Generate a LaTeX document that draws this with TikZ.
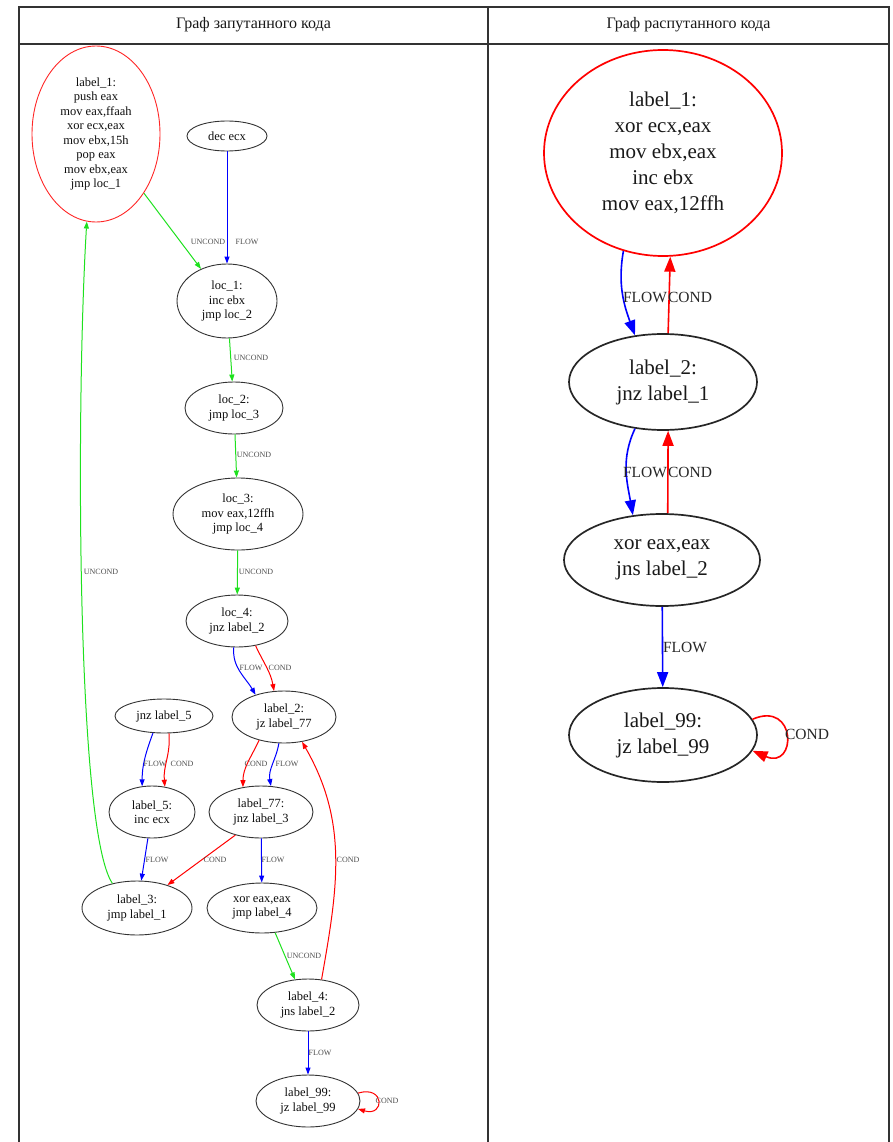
\documentclass[tikz,border=0pt]{standalone}
\usepackage{fontspec}
\setmainfont{Liberation Serif}
\usetikzlibrary{shapes.geometric,arrows.meta}
\definecolor{gvgreen}{RGB}{30,225,30}
\definecolor{gvblue}{RGB}{0,0,255}
\definecolor{gvred}{RGB}{255,0,0}
\begin{document}
\begin{tikzpicture}[x=1pt,y=-1pt,
  lnode/.style={ellipse,draw=black!80,line width=0.9pt,inner sep=0pt,align=center,font=\fontsize{12.5}{14.5}\selectfont,text=black!95},
  rnode/.style={ellipse,draw=black!85,line width=1.7pt,inner sep=0pt,align=center,font=\fontsize{21}{26}\selectfont,text=black!90},
  ledge/.style={line width=1pt,-{Triangle[length=7pt,width=5pt]}},
  redge/.style={line width=1.6pt,-{Triangle[length=15pt,width=11pt]}},
  llab/.style={inner sep=0pt,font=\fontsize{8}{9}\selectfont,text=black!70},
  rlab/.style={inner sep=0pt,font=\fontsize{15.5}{17}\selectfont,text=black!85},
  head/.style={inner sep=0pt,font=\fontsize{16}{18}\selectfont,text=black!90},
  frame/.style={line width=1.8pt,draw=black!80}
]
\useasboundingbox (0,0) rectangle (892,1142);
% table
\draw[frame] (19,1142) -- (19,7) -- (889,7) -- (889,1142);
\draw[frame] (19,44) -- (889,44);
\draw[frame] (488,7) -- (488,1142);
\node[head] (h1) at (253.5,25) {Граф запутанного кода};
\node[head] (h2) at (688.5,25) {Граф распутанного кода};

% ---------- left graph ----------
\node[lnode,draw=gvred!85,minimum width=128pt,minimum height=176pt] (a1) at (96,134) {label\_1:\\push eax\\mov eax,ffaah\\xor ecx,eax\\mov ebx,15h\\pop eax\\mov ebx,eax\\jmp loc\_1};
\node[lnode,minimum width=80pt,minimum height=30pt] (dec) at (227,136) {dec ecx};
\node[lnode,minimum width=100pt,minimum height=74pt] (loc1) at (227,301) {loc\_1:\\inc ebx\\jmp loc\_2};
\node[lnode,minimum width=98pt,minimum height=52pt] (loc2) at (234,408) {loc\_2:\\jmp loc\_3};
\node[lnode,minimum width=130pt,minimum height=72pt] (loc3) at (238,514) {loc\_3:\\mov eax,12ffh\\jmp loc\_4};
\node[lnode,minimum width=102pt,minimum height=52pt] (loc4) at (237,621) {loc\_4:\\jnz label\_2};
\node[lnode,minimum width=104pt,minimum height=52pt] (l2) at (284,717) {label\_2:\\jz label\_77};
\node[lnode,minimum width=98pt,minimum height=34pt] (j5) at (164,716) {jnz label\_5};
\node[lnode,minimum width=86pt,minimum height=52pt] (l5) at (152,812) {label\_5:\\inc ecx};
\node[lnode,minimum width=104pt,minimum height=52pt] (l77) at (261,812) {label\_77:\\jnz label\_3};
\node[lnode,minimum width=110pt,minimum height=54pt] (l3) at (137,908) {label\_3:\\jmp label\_1};
\node[lnode,minimum width=110pt,minimum height=50pt] (x4) at (262,908) {xor eax,eax\\jmp label\_4};
\node[lnode,minimum width=102pt,minimum height=52pt] (l4) at (308,1005) {label\_4:\\jns label\_2};
\node[lnode,minimum width=104pt,minimum height=52pt] (l99) at (308,1101) {label\_99:\\jz label\_99};

\draw[ledge,gvgreen] (a1.-51) -- (loc1.129);
\draw[ledge,gvblue] (dec) -- (loc1);
\draw[ledge,gvgreen] (loc1) -- (loc2);
\draw[ledge,gvgreen] (loc2) -- (loc3);
\draw[ledge,gvgreen] (loc3) -- (loc4);
\draw[ledge,gvblue] (loc4.-97) to[out=-95,in=120] (l2.142);
\draw[ledge,gvred] (loc4.-53) to[out=-65,in=100] (l2.111);
\draw[ledge,gvred] (l2.-137) to[out=-115,in=90] (l77.126);
\draw[ledge,gvblue] (l2.-101) to[out=-100,in=100] (l77.69);
\draw[ledge,gvblue] (j5.-123) to[out=-110,in=90] (l5.111);
\draw[ledge,gvred] (j5.-74) to[out=-85,in=95] (l5.63);
\draw[ledge,gvblue] (l5) -- (l3);
\draw[ledge,gvred] (l77.-138) -- (l3.37);
\draw[ledge,gvblue] (l77) -- (x4);
\draw[ledge,gvgreen] (l3.135) .. controls (76,830) and (76,400) .. (a1.-96);
\draw[ledge,gvgreen] (x4.-62) -- (l4.117);
\draw[ledge,gvred] (l4.62) to[out=80,in=-60] (l2.-54);
\draw[ledge,gvblue] (l4) -- (l99);
\draw[ledge,gvred] (l99.9) .. controls (385,1085) and (385,1117) .. (l99.-9);

\node[llab] (t1) at (208,242) {UNCOND};
\node[llab] (t2) at (247,242) {FLOW};
\node[llab] (t3) at (251,358) {UNCOND};
\node[llab] (t4) at (254,455) {UNCOND};
\node[llab] (t5) at (256,572) {UNCOND};
\node[llab] (t6) at (251,668) {FLOW};
\node[llab] (t7) at (280,668) {COND};
\node[llab] (t8) at (256,764) {COND};
\node[llab] (t9) at (287,764) {FLOW};
\node[llab] (t10) at (155,764) {FLOW};
\node[llab] (t11) at (182,764) {COND};
\node[llab] (t12) at (157,860) {FLOW};
\node[llab] (t13) at (215,860) {COND};
\node[llab] (t14) at (273,860) {FLOW};
\node[llab] (t15) at (101,572) {UNCOND};
\node[llab] (t16) at (304,956) {UNCOND};
\node[llab] (t17) at (348,860) {COND};
\node[llab] (t18) at (320,1053) {FLOW};
\node[llab] (t19) at (387,1101) {COND};

% ---------- right graph ----------
\node[rnode,draw=gvred,minimum width=238pt,minimum height=206pt] (r1) at (663,153) {label\_1:\\xor ecx,eax\\mov ebx,eax\\inc ebx\\mov eax,12ffh};
\node[rnode,minimum width=188pt,minimum height=96pt] (r2) at (663,382) {label\_2:\\jnz label\_1};
\node[rnode,minimum width=196pt,minimum height=92pt] (r3) at (662,560) {xor eax,eax\\jns label\_2};
\node[rnode,minimum width=188pt,minimum height=94pt] (r4) at (663,735) {label\_99:\\jz label\_99};

\draw[redge,gvblue] (r1.-112) to[out=-100,in=110] (r2.121);
\draw[redge,gvred] (r2.84) -- (r1.-86);
\draw[redge,gvblue] (r2.-121) to[out=-115,in=100] (r3.123);
\draw[redge,gvred] (r3.83) -- (r2.-84);
\draw[redge,gvblue] (r3) -- (r4);
\draw[redge,gvred] (r4.10) .. controls (797,700) and (797,770) .. (r4.-10);

\node[rlab] (u1) at (645,297) {FLOW};
\node[rlab] (u2) at (690,297) {COND};
\node[rlab] (u3) at (645,472) {FLOW};
\node[rlab] (u4) at (690,472) {COND};
\node[rlab] (u5) at (685,647) {FLOW};
\node[rlab] (u6) at (807,734) {COND};
\end{tikzpicture}
\end{document}
